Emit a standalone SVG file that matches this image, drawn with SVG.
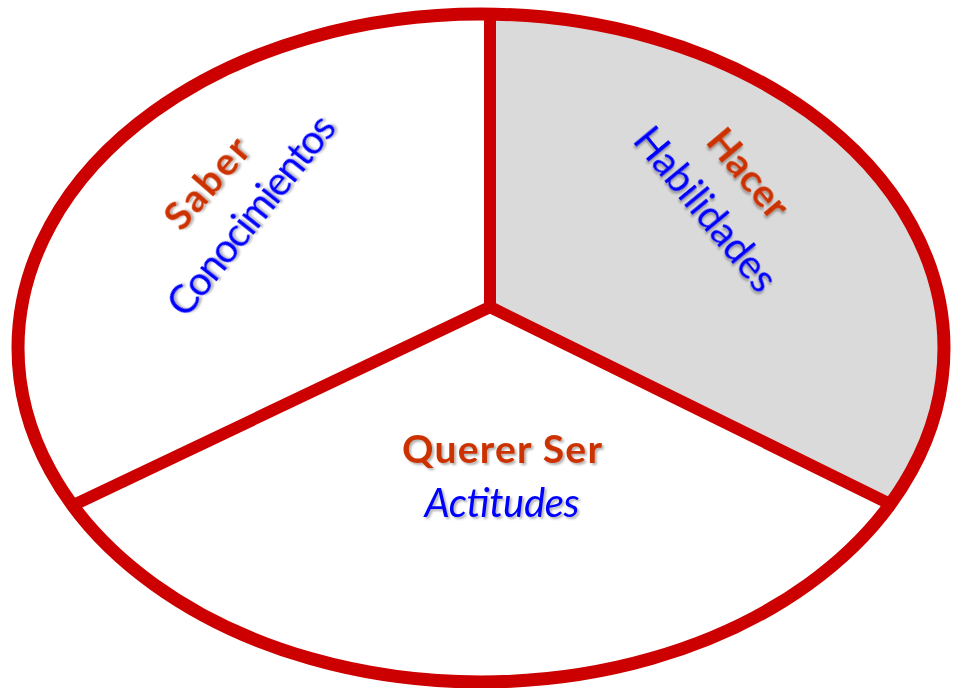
<svg xmlns="http://www.w3.org/2000/svg" width="953" height="688" viewBox="0 0 953 688">
<style>
.ring{fill:none;stroke:#cc0000;stroke-width:13}
.div{stroke:#cc0000;stroke-width:12;fill:none;stroke-linejoin:round}
.t{font-family:Lato,"Open Sans","Liberation Sans",sans-serif;font-size:40px;filter:url(#sh)}
.h{fill:#cc3300;font-weight:bold;font-size:39px}
.b{fill:#0000ff}
</style>
<defs>
<clipPath id="in"><ellipse cx="481" cy="348" rx="463" ry="334"/></clipPath>
<filter id="sh" x="-10%" y="-10%" width="130%" height="140%"><feDropShadow dx="2" dy="2" stdDeviation="1.2" flood-color="#000" flood-opacity="0.3"/></filter>
</defs>
<rect width="953" height="688" fill="#ffffff"/>
<g id="hacer-sector" clip-path="url(#in)">
<polygon points="490,307 490,0 953,0 953,535" fill="#dadada"/>
</g>
<g id="connectors" clip-path="url(#in)">
<path class="div" d="M490,0 L490,307 L0,540 M490,307 L953,535"/>
</g>
<g id="ring"><ellipse class="ring" cx="481" cy="348" rx="463" ry="334"/></g>
<g id="saber">
<text class="t h" text-anchor="middle" transform="translate(217,192) rotate(-49)" textLength="108">Saber</text>
<text class="t b" text-anchor="middle" transform="translate(262,224) rotate(-51.5)" textLength="244">Conocimientos</text>
</g>
<g id="hacer">
<text class="t h" text-anchor="middle" transform="translate(738,182) rotate(50)" textLength="104">Hacer</text>
<text class="t b" text-anchor="middle" transform="translate(695,218) rotate(50.5)" textLength="200">Habilidades</text>
</g>
<g id="querer">
<text class="t h" text-anchor="middle" x="502" y="463" textLength="200">Querer Ser</text>
<text class="t b" text-anchor="middle" x="502" y="517" font-style="italic" textLength="155">Actitudes</text>
</g>
</svg>
